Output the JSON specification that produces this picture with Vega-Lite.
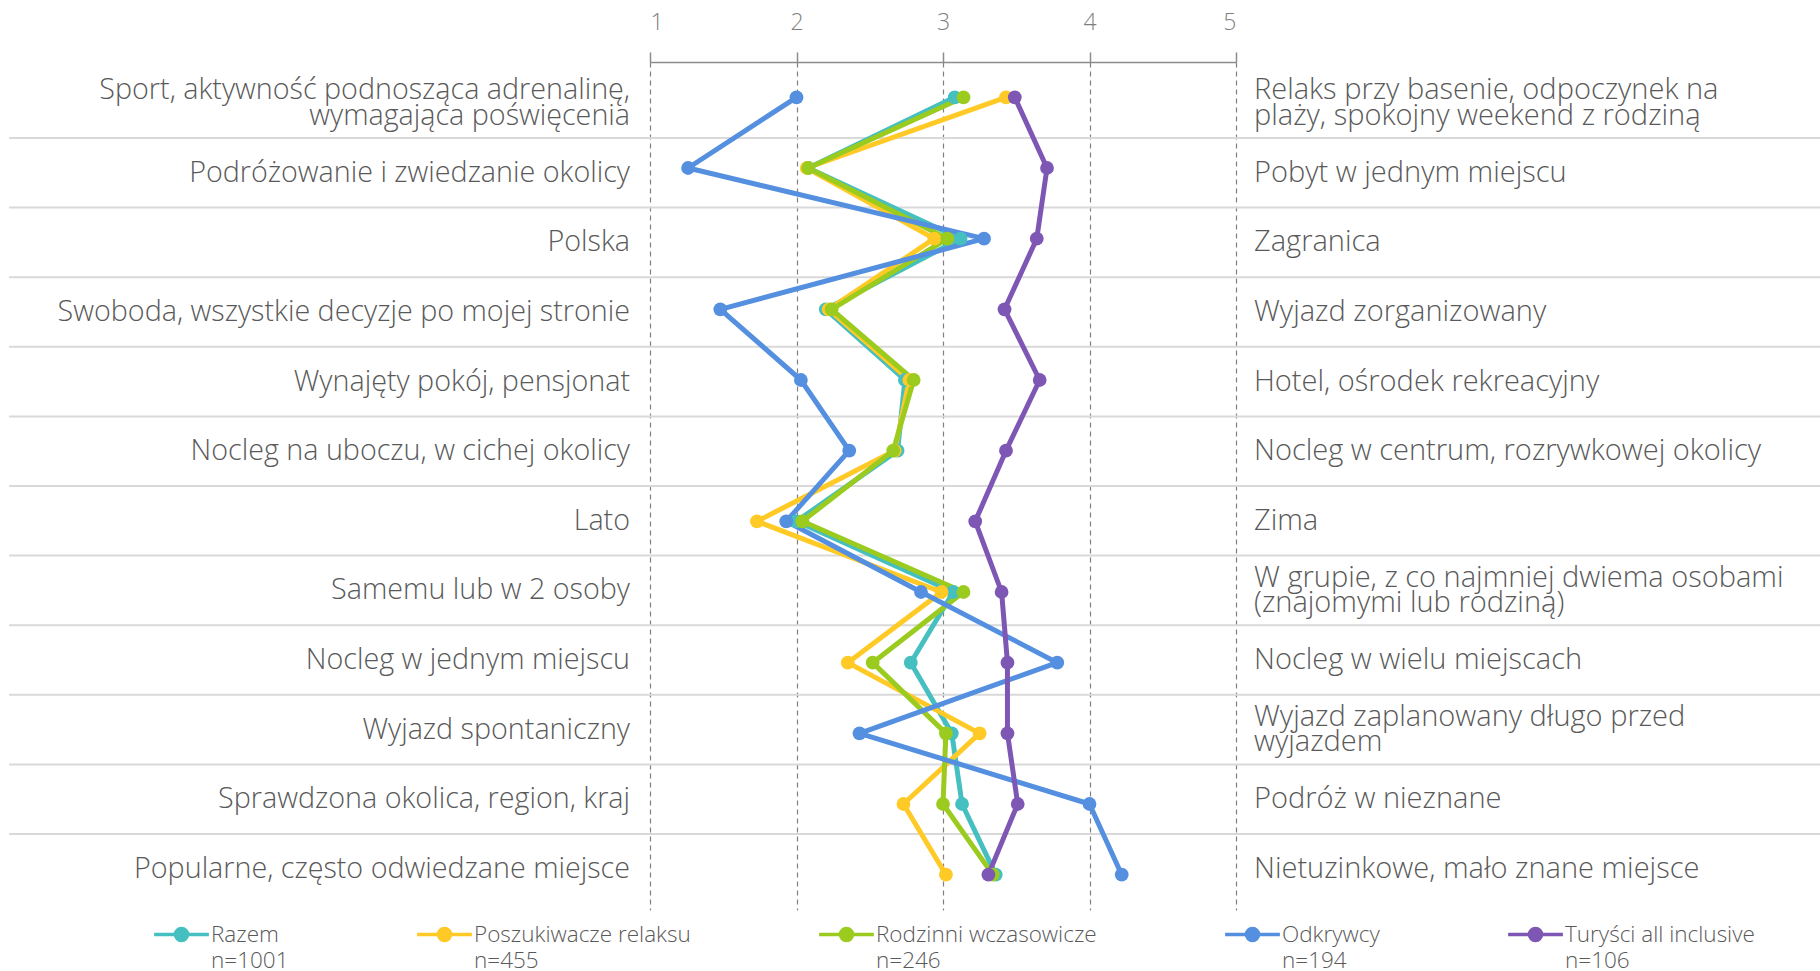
{
  "$schema": "https://vega.github.io/schema/vega-lite/v6.json",
  "width": 586,
  "height": 848,
  "autosize": {"type": "none"},
  "padding": {"left": 650, "top": 62, "right": 584, "bottom": 61},
  "background": "white",
  "config": {
    "view": {"stroke": null},
    "font": "Open Sans",
    "axis": {"grid": true, "gridDash": [5, 4], "gridColor": "#808080", "gridWidth": 1.2,
             "domainColor": "#8c8c8c", "domainWidth": 1.5, "tickColor": "#8c8c8c", "tickWidth": 1.5, "tickSize": 10,
             "labelFont": "Open Sans", "labelFontWeight": 300, "labelFontSize": 23, "labelColor": "#7f7f7f", "labelPadding": 18}
  },
  "datasets": {
    "rows": [
      {"row": 1, "left": "Sport, aktywność podnosząca adrenalinę,\nwymagająca poświęcenia", "right": "Relaks przy basenie, odpoczynek na\nplaży, spokojny weekend z rodziną"},
      {"row": 2, "left": "Podróżowanie i zwiedzanie okolicy", "right": "Pobyt w jednym miejscu"},
      {"row": 3, "left": "Polska", "right": "Zagranica"},
      {"row": 4, "left": "Swoboda, wszystkie decyzje po mojej stronie", "right": "Wyjazd zorganizowany"},
      {"row": 5, "left": "Wynajęty pokój, pensjonat", "right": "Hotel, ośrodek rekreacyjny"},
      {"row": 6, "left": "Nocleg na uboczu, w cichej okolicy", "right": "Nocleg w centrum, rozrywkowej okolicy"},
      {"row": 7, "left": "Lato", "right": "Zima"},
      {"row": 8, "left": "Samemu lub w 2 osoby", "right": "W grupie, z co najmniej dwiema osobami\n(znajomymi lub rodziną)"},
      {"row": 9, "left": "Nocleg w jednym miejscu", "right": "Nocleg w wielu miejscach"},
      {"row": 10, "left": "Wyjazd spontaniczny", "right": "Wyjazd zaplanowany długo przed\nwyjazdem"},
      {"row": 11, "left": "Sprawdzona okolica, region, kraj", "right": "Podróż w nieznane"},
      {"row": 12, "left": "Popularne, często  odwiedzane miejsce", "right": "Nietuzinkowe, mało znane miejsce"}
    ],
    "points": [
      {"group": "Razem", "row": 1, "value": 3.08},
      {"group": "Razem", "row": 2, "value": 2.08},
      {"group": "Razem", "row": 3, "value": 3.12},
      {"group": "Razem", "row": 4, "value": 2.2},
      {"group": "Razem", "row": 5, "value": 2.74},
      {"group": "Razem", "row": 6, "value": 2.69},
      {"group": "Razem", "row": 7, "value": 2.0},
      {"group": "Razem", "row": 8, "value": 3.07},
      {"group": "Razem", "row": 9, "value": 2.78},
      {"group": "Razem", "row": 10, "value": 3.06},
      {"group": "Razem", "row": 11, "value": 3.13},
      {"group": "Razem", "row": 12, "value": 3.36},
      {"group": "Poszukiwacze relaksu", "row": 1, "value": 3.43},
      {"group": "Poszukiwacze relaksu", "row": 2, "value": 2.07},
      {"group": "Poszukiwacze relaksu", "row": 3, "value": 2.94},
      {"group": "Poszukiwacze relaksu", "row": 4, "value": 2.22},
      {"group": "Poszukiwacze relaksu", "row": 5, "value": 2.77},
      {"group": "Poszukiwacze relaksu", "row": 6, "value": 2.67},
      {"group": "Poszukiwacze relaksu", "row": 7, "value": 1.73},
      {"group": "Poszukiwacze relaksu", "row": 8, "value": 2.99},
      {"group": "Poszukiwacze relaksu", "row": 9, "value": 2.35},
      {"group": "Poszukiwacze relaksu", "row": 10, "value": 3.25},
      {"group": "Poszukiwacze relaksu", "row": 11, "value": 2.73},
      {"group": "Poszukiwacze relaksu", "row": 12, "value": 3.02},
      {"group": "Rodzinni wczasowicze", "row": 1, "value": 3.14},
      {"group": "Rodzinni wczasowicze", "row": 2, "value": 2.08},
      {"group": "Rodzinni wczasowicze", "row": 3, "value": 3.03},
      {"group": "Rodzinni wczasowicze", "row": 4, "value": 2.24},
      {"group": "Rodzinni wczasowicze", "row": 5, "value": 2.8},
      {"group": "Rodzinni wczasowicze", "row": 6, "value": 2.66},
      {"group": "Rodzinni wczasowicze", "row": 7, "value": 2.04},
      {"group": "Rodzinni wczasowicze", "row": 8, "value": 3.14},
      {"group": "Rodzinni wczasowicze", "row": 9, "value": 2.52},
      {"group": "Rodzinni wczasowicze", "row": 10, "value": 3.02},
      {"group": "Rodzinni wczasowicze", "row": 11, "value": 3.0},
      {"group": "Rodzinni wczasowicze", "row": 12, "value": 3.34},
      {"group": "Odkrywcy", "row": 1, "value": 2.0},
      {"group": "Odkrywcy", "row": 2, "value": 1.26},
      {"group": "Odkrywcy", "row": 3, "value": 3.28},
      {"group": "Odkrywcy", "row": 4, "value": 1.48},
      {"group": "Odkrywcy", "row": 5, "value": 2.03},
      {"group": "Odkrywcy", "row": 6, "value": 2.36},
      {"group": "Odkrywcy", "row": 7, "value": 1.93},
      {"group": "Odkrywcy", "row": 8, "value": 2.85},
      {"group": "Odkrywcy", "row": 9, "value": 3.78},
      {"group": "Odkrywcy", "row": 10, "value": 2.43},
      {"group": "Odkrywcy", "row": 11, "value": 4.0},
      {"group": "Odkrywcy", "row": 12, "value": 4.22},
      {"group": "Turyści all inclusive", "row": 1, "value": 3.49},
      {"group": "Turyści all inclusive", "row": 2, "value": 3.71},
      {"group": "Turyści all inclusive", "row": 3, "value": 3.64},
      {"group": "Turyści all inclusive", "row": 4, "value": 3.42},
      {"group": "Turyści all inclusive", "row": 5, "value": 3.66},
      {"group": "Turyści all inclusive", "row": 6, "value": 3.43},
      {"group": "Turyści all inclusive", "row": 7, "value": 3.22},
      {"group": "Turyści all inclusive", "row": 8, "value": 3.4},
      {"group": "Turyści all inclusive", "row": 9, "value": 3.44},
      {"group": "Turyści all inclusive", "row": 10, "value": 3.44},
      {"group": "Turyści all inclusive", "row": 11, "value": 3.51},
      {"group": "Turyści all inclusive", "row": 12, "value": 3.31}
    ]
  },
  "layer": [
    {
      "data": {"name": "rows"},
      "encoding": {
        "y": {"field": "row", "type": "ordinal", "axis": null,
              "scale": {"type": "band", "domain": [1,2,3,4,5,6,7,8,9,10,11,12], "paddingInner": 0, "paddingOuter": 0.092}}
      },
      "layer": [
        {
          "transform": [{"filter": "datum.row > 1"}],
          "mark": {"type": "rule", "color": "#d9d9d9", "strokeWidth": 2},
          "encoding": {
            "y": {"field": "row", "type": "ordinal", "bandPosition": 0, "axis": null},
            "x": {"datum": -3.375, "type": "quantitative", "axis": {"orient": "top", "values": [1, 2, 3, 4, 5], "title": null}, "scale": {"domain": [1, 5], "nice": false, "zero": false}},
            "x2": {"datum": 9}
          }
        },
        {
          "transform": [{"filter": "indexof(datum.left, '\\n') < 0"}],
          "mark": {"type": "text", "align": "right", "baseline": "middle", "dx": -20, "fontSize": 28.7, "fontWeight": 300, "color": "#595959", "lineBreak": "\n", "lineHeight": 25.5},
          "encoding": {
            "x": {"datum": 1, "type": "quantitative", "axis": {"orient": "top", "values": [1, 2, 3, 4, 5], "title": null}, "scale": {"domain": [1, 5], "nice": false, "zero": false}},
            "text": {"field": "left", "type": "nominal"}
          }
        },
        {
          "transform": [{"filter": "indexof(datum.left, '\\n') >= 0"}],
          "mark": {"type": "text", "align": "right", "baseline": "middle", "dx": -20, "dy": -12.75, "fontSize": 28.7, "fontWeight": 300, "color": "#595959", "lineBreak": "\n", "lineHeight": 25.5},
          "encoding": {
            "x": {"datum": 1, "type": "quantitative", "axis": {"orient": "top", "values": [1, 2, 3, 4, 5], "title": null}, "scale": {"domain": [1, 5], "nice": false, "zero": false}},
            "text": {"field": "left", "type": "nominal"}
          }
        },
        {
          "transform": [{"filter": "indexof(datum.right, '\\n') < 0"}],
          "mark": {"type": "text", "align": "left", "baseline": "middle", "dx": 18, "fontSize": 29, "fontWeight": 300, "color": "#595959", "lineBreak": "\n", "lineHeight": 25.5},
          "encoding": {
            "x": {"datum": 5, "type": "quantitative", "axis": {"orient": "top", "values": [1, 2, 3, 4, 5], "title": null}, "scale": {"domain": [1, 5], "nice": false, "zero": false}},
            "text": {"field": "right", "type": "nominal"}
          }
        },
        {
          "transform": [{"filter": "indexof(datum.right, '\\n') >= 0"}],
          "mark": {"type": "text", "align": "left", "baseline": "middle", "dx": 18, "dy": -12.75, "fontSize": 29, "fontWeight": 300, "color": "#595959", "lineBreak": "\n", "lineHeight": 25.5},
          "encoding": {
            "x": {"datum": 5, "type": "quantitative", "axis": {"orient": "top", "values": [1, 2, 3, 4, 5], "title": null}, "scale": {"domain": [1, 5], "nice": false, "zero": false}},
            "text": {"field": "right", "type": "nominal"}
          }
        }
      ]
    },
    {
      "data": {"name": "points"},
      "encoding": {
        "y": {"field": "row", "type": "ordinal", "axis": null,
              "scale": {"type": "point", "domain": [1,2,3,4,5,6,7,8,9,10,11,12], "padding": 0.5}},
        "x": {"field": "value", "type": "quantitative", "scale": {"domain": [1, 5], "nice": false, "zero": false},
              "axis": {"orient": "top", "values": [1, 2, 3, 4, 5], "title": null}}
      },
      "layer": [
        {
          "mark": {"type": "line", "strokeWidth": 5, "strokeCap": "round", "strokeJoin": "round"},
          "encoding": {
            "order": {"field": "row", "type": "quantitative"},
            "color": {"field": "group", "type": "nominal",
                      "scale": {"domain": ["Razem", "Poszukiwacze relaksu", "Rodzinni wczasowicze", "Odkrywcy", "Turyści all inclusive"],
                                "range": ["#45BFBF", "#FFC926", "#9BCB1E", "#548FE0", "#7E57B4"]},
                      "legend": {
                        "orient": "none", "legendX": -498, "legendY": 843, "direction": "horizontal", "title": null, "padding": 0,
                        "symbolType": "M -1 0 L 1 0 M 0.22 0 A 0.22 0.22 0 1 1 -0.22 0 A 0.22 0.22 0 1 1 0.22 0 Z",
                        "symbolSize": 3000, "symbolStrokeWidth": 3.5,
                        "labelFont": "Open Sans", "labelFontWeight": 300, "labelFontSize": 22.5, "labelColor": "#595959", "labelOffset": 0, "labelLimit": 400,
                        "columnPadding": 121,
                        "labelExpr": "[datum.label, datum.label == 'Razem' ? 'n=1001' : datum.label == 'Poszukiwacze relaksu' ? 'n=455' : datum.label == 'Rodzinni wczasowicze' ? 'n=246' : datum.label == 'Odkrywcy' ? 'n=194' : 'n=106']",
                        "encode": {
                          "symbols": {"update": {"fill": {"scale": "color", "field": "value"}, "stroke": {"scale": "color", "field": "value"}}},
                          "labels": {"update": {"lineHeight": {"value": 26}}}
                        }
                      }}
          }
        },
        {
          "mark": {"type": "point", "filled": true, "size": 190, "opacity": 1, "shape": "circle"},
          "encoding": {
            "color": {"field": "group", "type": "nominal", "legend": null}
          }
        }
      ]
    }
  ],
  "resolve": {"scale": {"y": "independent"}}
}
